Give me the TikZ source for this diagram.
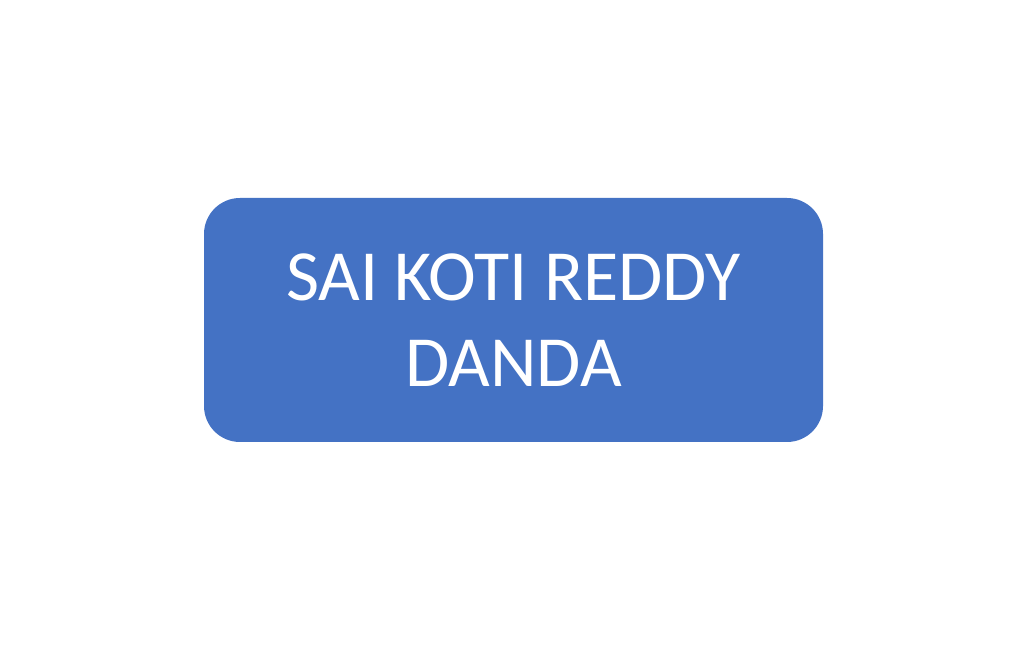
\documentclass[tikz,border=0pt]{standalone}
\usepackage{fontspec}
\setmainfont{Carlito}
\definecolor{boxblue}{HTML}{4472C4}
\tikzset{namebox/.style={fill=boxblue, draw=none, rounded corners=36pt, minimum width=619pt, minimum height=244pt, text=white, align=center, font=\fontsize{72}{86}\selectfont}}
\begin{document}
\begin{tikzpicture}[x=1pt,y=1pt]
\useasboundingbox (0,0) rectangle (1024,650);
\node[namebox] (box) at (513.5,330) {SAI KOTI REDDY\\DANDA};
\end{tikzpicture}
\end{document}
